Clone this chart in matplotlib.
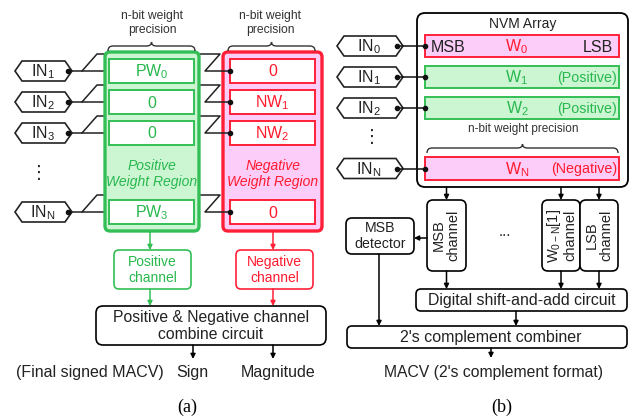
import matplotlib
matplotlib.use('Agg')
from matplotlib import pyplot as plt
from matplotlib.patches import FancyBboxPatch, Polygon, PathPatch
from matplotlib.path import Path

plt.rcParams['font.family'] = ['Liberation Sans', 'DejaVu Sans']
plt.rcParams['mathtext.fontset'] = 'custom'
plt.rcParams['mathtext.rm'] = 'Liberation Sans'
plt.rcParams['mathtext.it'] = 'Liberation Sans:italic'

# ---- diagram content ----
left_inputs = ['1', '2', '3', 'N']
pos_weights = [r'$\mathregular{PW_0}$', '0', '0', r'$\mathregular{PW_3}$']
neg_weights = ['0', r'$\mathregular{NW_1}$', r'$\mathregular{NW_2}$', '0']
right_inputs = ['0', '1', '2', 'N']
right_weights = [r'$\mathregular{W_0}$', r'$\mathregular{W_1}$',
                 r'$\mathregular{W_2}$', r'$\mathregular{W_N}$']
right_signs = ['negative', 'positive', 'positive', 'negative']
right_tags = ['', '(Positive)', '(Positive)', '(Negative)']
channel_labels = ['MSB\nchannel', r'$\mathregular{W_{0-N}}$[1]' + '\nchannel', 'LSB\nchannel']

GREEN = '#33bf55'
GREEN_FILL = '#ccf5d2'
RED = '#ff2038'
PINK_FILL = '#fccdf8'
TXT_GREEN = '#27b84e'
TXT_RED = '#ff1a2e'
INK = '#222222'

fig = plt.figure(figsize=(6.38, 4.2), dpi=100)
ax = fig.add_axes([0, 0, 1, 1])
ax.set_xlim(0, 638)
ax.set_ylim(420, 0)
ax.axis('off')


def rbox(x0, y0, x1, y1, ec='black', fc='white', lw=1.2, r=5, z=3):
    p = FancyBboxPatch((x0, y0), x1 - x0, y1 - y0,
                       boxstyle='round,pad=0,rounding_size=%g' % r,
                       ec=ec, fc=fc, lw=lw, zorder=z)
    ax.add_patch(p)


def sbox(x0, y0, x1, y1, ec, fc, lw=1.4, z=3):
    ax.add_patch(plt.Rectangle((x0, y0), x1 - x0, y1 - y0, ec=ec, fc=fc, lw=lw, zorder=z))


def arrow(x, y0, y1, color='black', horiz=False):
    if horiz:
        start, end = (y0, x), (y1, x)
    else:
        start, end = (x, y0), (x, y1)
    ax.annotate('', xy=end, xytext=start, zorder=6,
                arrowprops=dict(arrowstyle='-|>', color=color, lw=1.1,
                                mutation_scale=7, shrinkA=0, shrinkB=0))


def hexagon(x0, x1, yc, label):
    pts = [(x0, yc), (x0 + 7, yc - 10), (x1 - 7, yc - 10), (x1, yc),
           (x1 - 7, yc + 10), (x0 + 7, yc + 10)]
    ax.add_patch(Polygon(pts, closed=True, ec=INK, fc='white', lw=1.2, zorder=4))
    ax.text((x0 + x1) / 2 - 1, yc + 1, r'$\mathregular{IN_%s}$' % label,
            ha='center', va='center', fontsize=11.5, color=INK, zorder=5)


def brace(x0, x1, y):
    xm = (x0 + x1) / 2
    verts = [(x0, y + 5), (x0, y), (x0 + 5, y), (xm - 5, y), (xm, y), (xm, y - 4),
             (xm, y), (xm + 5, y), (x1 - 5, y), (x1, y), (x1, y + 5)]
    codes = [Path.MOVETO, Path.CURVE3, Path.CURVE3, Path.LINETO, Path.CURVE3, Path.CURVE3,
             Path.CURVE3, Path.CURVE3, Path.LINETO, Path.CURVE3, Path.CURVE3]
    ax.add_patch(PathPatch(Path(verts, codes), fc='none', ec='#333333', lw=1.0, zorder=4))


# ================= (a) =================
left_rows = [71, 102, 133, 212]

ax.add_patch(FancyBboxPatch((105, 52), 94, 179, boxstyle='round,pad=0,rounding_size=5',
                            ec=GREEN, fc=GREEN_FILL, lw=2.4, zorder=2))
ax.add_patch(FancyBboxPatch((223, 52), 99, 179, boxstyle='round,pad=0,rounding_size=5',
                            ec=RED, fc=PINK_FILL, lw=2.4, zorder=0))

for yc, lab, pw, nw in zip(left_rows, left_inputs, pos_weights, neg_weights):
    hexagon(15, 72, yc, lab)
    ax.plot([68, 105], [yc, yc], color=INK, lw=1.1, zorder=1)
    ax.plot([82, 97, 220, 205, 230], [yc, yc - 17, yc - 17, yc, yc],
            color=INK, lw=1.1, zorder=1)
    ax.plot([68, 230], [yc, yc], 'o', color='#111111', ms=3, zorder=6)
    sbox(109, yc - 12, 194, yc + 12, GREEN, 'white')
    ax.text(151.5, yc + 1, pw, ha='center', va='center', fontsize=11.5, color=TXT_GREEN, zorder=5)
    sbox(230, yc - 12, 315, yc + 12, RED, 'white')
    ax.text(272.5, yc + 1, nw, ha='center', va='center', fontsize=11.5, color=TXT_RED, zorder=5)

ax.text(39, 173, '⋮', ha='center', va='center', fontsize=13, color=INK)

ax.text(152, 23, 'n-bit weight\nprecision', ha='center', va='center', fontsize=8.7,
        color='#333333', linespacing=1.2)
ax.text(270, 23, 'n-bit weight\nprecision', ha='center', va='center', fontsize=8.7,
        color='#333333', linespacing=1.2)
brace(108, 195, 46)
brace(228, 315, 46)

ax.text(152, 174, 'Positive\nWeight Region', ha='center', va='center', fontsize=10,
        style='italic', color=TXT_GREEN, zorder=5, linespacing=1.15)
ax.text(273, 174, 'Negative\nWeight Region', ha='center', va='center', fontsize=10,
        style='italic', color=TXT_RED, zorder=5, linespacing=1.15)

arrow(150, 232, 250, GREEN)
arrow(273, 232, 250, RED)
rbox(114, 250, 191, 289, ec=GREEN)
ax.text(152.5, 270, 'Positive\nchannel', ha='center', va='center', fontsize=10,
        color=TXT_GREEN, zorder=5)
rbox(236, 250, 313, 289, ec=RED)
ax.text(274.5, 270, 'Negative\nchannel', ha='center', va='center', fontsize=10,
        color=TXT_RED, zorder=5)
arrow(150, 289, 306, GREEN)
arrow(273, 289, 306, RED)

rbox(96, 306, 326, 345, r=7)
ax.text(211, 326, 'Positive & Negative channel\ncombine circuit', ha='center', va='center',
        fontsize=11.3, color=INK, zorder=5)
arrow(193, 345, 359)
arrow(273, 345, 359)
ax.text(90, 373, '(Final signed MACV)', ha='center', va='center', fontsize=11.5, color=INK)
ax.text(192, 373, 'Sign', ha='center', va='center', fontsize=11.5, color=INK)
ax.text(278, 373, 'Magnitude', ha='center', va='center', fontsize=11.5, color=INK)
ax.text(187, 407, '(a)', ha='center', va='center', fontsize=13, family='Liberation Serif')

# ================= (b) =================
right_rows = [(35, 57), (66, 88), (97, 119), (157, 180)]

rbox(417, 13, 628, 187, r=8, lw=1.3, z=1)
ax.text(523, 24, 'NVM Array', ha='center', va='center', fontsize=10, color=INK, zorder=5)

for (y0, y1), lab, w, sign, tag in zip(right_rows, right_inputs, right_weights,
                                       right_signs, right_tags):
    yc = (y0 + y1) / 2
    if sign == 'negative':
        ec, fc, tc = RED, PINK_FILL, TXT_RED
    else:
        ec, fc, tc = GREEN, GREEN_FILL, TXT_GREEN
    sbox(425, y0, 619, y1, ec, fc)
    ax.text(517, yc + 1, w, ha='center', va='center', fontsize=11.5, color=tc, zorder=5)
    if tag:
        ax.text(617, yc + 1, tag, ha='right', va='center', fontsize=10.3, color=tc, zorder=5)
    hexagon(337, 403, yc, lab)
    ax.plot([397, 425], [yc, yc], color='#111111', lw=1.1, zorder=5)
    ax.plot([397, 425], [yc, yc], 'o', color='#111111', ms=3, zorder=6)

ax.text(448, 47, 'MSB', ha='center', va='center', fontsize=11.5, color=INK, zorder=5)
ax.text(598, 47, 'LSB', ha='center', va='center', fontsize=11.5, color=INK, zorder=5)
ax.text(372, 137, '⋮', ha='center', va='center', fontsize=13, color=INK)
ax.text(523, 129, 'n-bit weight precision', ha='center', va='center', fontsize=8.5,
        color='#333333', zorder=5)
brace(427, 618, 148)

channel_x = [(427, 466), (542, 580), (580, 618)]
for (x0, x1), lab in zip(channel_x, channel_labels):
    xm = (x0 + x1) / 2
    arrow(xm, 187, 200)
    rbox(x0, 200, x1, 271, r=6)
    ax.text(xm, 235.5, lab, ha='center', va='center', rotation=90, fontsize=10.5,
            color=INK, zorder=5, linespacing=1.05)
    arrow(xm, 271, 289)
ax.text(505, 232, '...', ha='center', va='center', fontsize=11, color=INK)

rbox(346, 218, 414, 254, r=6)
ax.text(380, 236, 'MSB\ndetector', ha='center', va='center', fontsize=10.2, color=INK,
        zorder=5)
arrow(238, 427, 414, horiz=True)

rbox(416, 289, 627, 311, r=5)
ax.text(522, 300.5, 'Digital shift-and-add circuit', ha='center', va='center', fontsize=11.4,
        color=INK, zorder=5)
arrow(516, 311, 326)
arrow(379, 254, 326)

rbox(347, 326, 627, 348, r=5)
ax.text(491, 337.5, "2's complement combiner", ha='center', va='center', fontsize=11.5,
        color=INK, zorder=5)
arrow(491, 348, 358)
ax.text(493, 373, "MACV (2's complement format)", ha='center', va='center', fontsize=11.3,
        color=INK)
ax.text(502, 407, '(b)', ha='center', va='center', fontsize=13, family='Liberation Serif')

fig.savefig('out.png', dpi=100, facecolor='white')
